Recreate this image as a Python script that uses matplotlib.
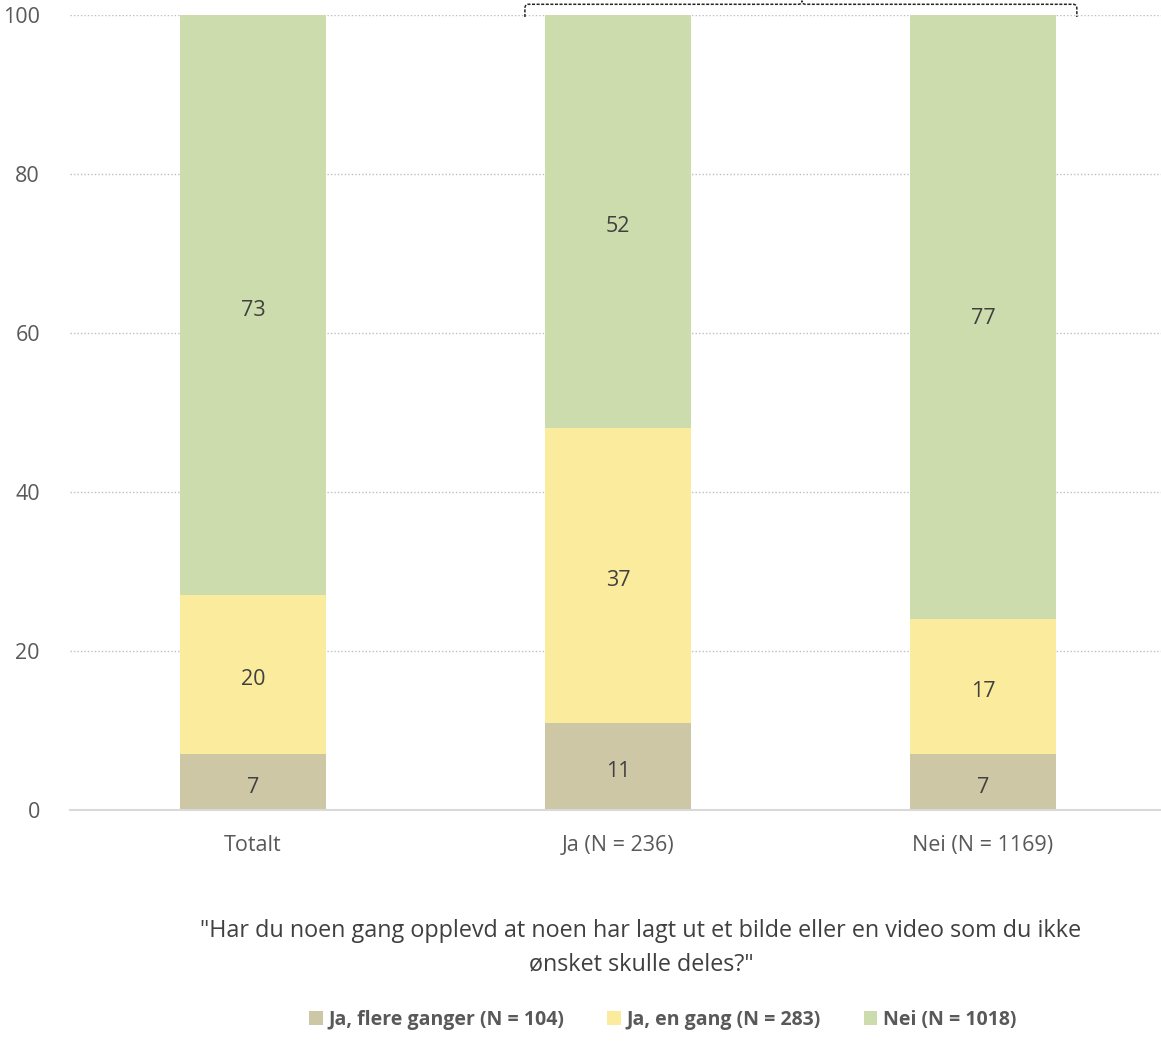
import matplotlib
matplotlib.use("Agg")
import matplotlib.pyplot as plt
from matplotlib.path import Path
from matplotlib.patches import PathPatch

plt.rcParams['font.family'] = ['Open Sans', 'DejaVu Sans']

categories = ["Totalt", "Ja (N = 236)", "Nei (N = 1169)"]
series_names = ["Ja, flere ganger (N = 104)", "Ja, en gang (N = 283)", "Nei (N = 1018)"]
flere = [7, 11, 7]
en_gang = [20, 37, 17]
nei = [73, 52, 77]
yticks = [0, 20, 40, 60, 80, 100]
title = '"Har du noen gang opplevd at noen har lagt ut et bilde eller en video som du ikke\nønsket skulle deles?"'

colors = ["#CDC7A5", "#FAEC9C", "#CDDCAC"]

fig = plt.figure(figsize=(11.61, 10.58), dpi=100)
ax = fig.add_axes([0.0607, 0.2344, 0.9432, 0.7514])

x = list(range(len(categories)))
series = [flere, en_gang, nei]
bottom = [0] * len(categories)
for vals, col, name in zip(series, colors, series_names):
    ax.bar(x, vals, width=0.4, bottom=bottom, color=col, label=name, zorder=2)
    for xi, b, v in zip(x, bottom, vals):
        ax.annotate(str(v), (xi, b + v / 2), xytext=(0, -5), textcoords="offset pixels",
                    ha="center", va="center", fontsize=15.5, color="#404040", zorder=3)
    bottom = [b + v for b, v in zip(bottom, vals)]

ax.set_xlim(-0.5, 2.5)
ax.set_ylim(0, 100)
ax.set_yticks(yticks)
ax.set_xticks(x)
ax.set_xticklabels(categories)
ax.tick_params(axis="both", length=0, labelsize=15.5, colors="#595959")
ax.tick_params(axis="y", pad=22)
ax.tick_params(axis="x", pad=18)
ax.yaxis.grid(True, linestyle=(0, (1, 1.5)), color="#BFBFBF", linewidth=1, zorder=0)
ax.set_axisbelow(True)
for s in ["left", "right", "top"]:
    ax.spines[s].set_visible(False)
ax.spines["bottom"].set_color("#D9D9D9")
ax.spines["bottom"].set_linewidth(1.5)
ax.spines["bottom"].set_zorder(3)

# curly bracket above Ja and Nei
xl, xr, xm = 0.745, 2.257, 1.504
yb, yt, yp = 99.75, 101.35, 101.8
verts = [(xl, yb), (xl, yt - 0.5), (xl, yt), (xl + 0.01, yt),
         (xm - 0.01, yt), (xm, yt), (xm, yp),
         (xm, yt), (xm + 0.01, yt),
         (xr - 0.01, yt), (xr, yt), (xr, yt - 0.5), (xr, yb)]
codes = [Path.MOVETO, Path.LINETO, Path.CURVE3, Path.CURVE3,
         Path.LINETO, Path.CURVE3, Path.CURVE3,
         Path.CURVE3, Path.CURVE3,
         Path.LINETO, Path.CURVE3, Path.CURVE3, Path.LINETO]
brace = PathPatch(Path(verts, codes), fill=False, edgecolor="#262626", linewidth=1.1,
                  linestyle=(0, (2, 1)), clip_on=False, zorder=4)
ax.add_patch(brace)

fig.text(0.552, 0.104, title, ha="center", va="center", fontsize=16.8, color="#404040",
         linespacing=1.55)

leg = fig.legend(loc="center", bbox_to_anchor=(0.571, 0.036), ncol=3, frameon=False,
                 handlelength=0.7, handleheight=0.7, handletextpad=0.3, columnspacing=2.2,
                 prop={"weight": "bold", "size": 14})
for t in leg.get_texts():
    t.set_color("#595959")

fig.savefig("out.png", dpi=100)
